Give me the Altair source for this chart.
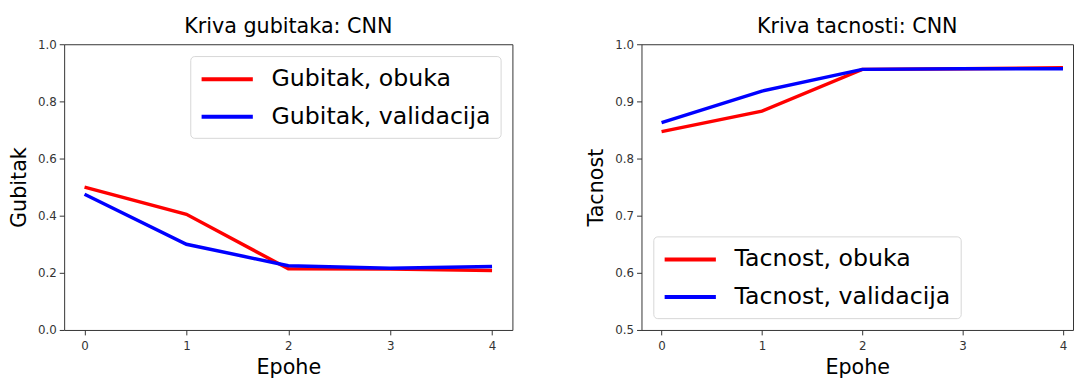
import altair as alt
import pandas as pd

FONT = "DejaVu Sans"

epochs = [0, 1, 2, 3, 4]
loss_train = [0.500, 0.405, 0.214, 0.213, 0.208]
loss_val = [0.475, 0.300, 0.225, 0.216, 0.222]
acc_train = [0.847, 0.883, 0.956, 0.957, 0.959]
acc_val = [0.863, 0.918, 0.956, 0.957, 0.957]

loss_names = ["Gubitak, obuka", "Gubitak, validacija"]
acc_names = ["Tacnost, obuka", "Tacnost, validacija"]
loss_ticks = [0.0, 0.2, 0.4, 0.6, 0.8, 1.0]
acc_ticks = [0.5, 0.6, 0.7, 0.8, 0.9, 1.0]
epoch_ticks = [0, 1, 2, 3, 4]


def long_df(names, train, val):
    rows = []
    for e, v in zip(epochs, train):
        rows.append({"epoha": e, "vrednost": v, "serija": names[0]})
    for e, v in zip(epochs, val):
        rows.append({"epoha": e, "vrednost": v, "serija": names[1]})
    return pd.DataFrame(rows)


def panel(df, names, title, ytitle, ydomain, yticks, xdomain, width, orient):
    return alt.Chart(df, title=alt.Title(title, fontSize=21, font=FONT, fontWeight="normal",
                                         color="black", offset=1)).mark_line(
        strokeWidth=3.5
    ).encode(
        x=alt.X("epoha:Q",
                scale=alt.Scale(domain=xdomain, nice=False, zero=False),
                axis=alt.Axis(values=epoch_ticks, format="d", title="Epohe")),
        y=alt.Y("vrednost:Q",
                scale=alt.Scale(domain=ydomain, nice=False, zero=False),
                axis=alt.Axis(values=yticks, format=".1f", title=ytitle)),
        color=alt.Color("serija:N",
                        scale=alt.Scale(domain=names, range=["#ff0000", "#0000ff"]),
                        legend=alt.Legend(title=None, orient=orient, offset=12,
                                          fillColor="white", strokeColor="#d6d6d6",
                                          cornerRadius=4, padding=9.5,
                                          symbolType="M-1,0H3.3333", symbolSize=576,
                                          symbolStrokeWidth=4,
                                          labelFontSize=24, labelFont=FONT,
                                          labelColor="black", labelOffset=45,
                                          labelLimit=500, rowPadding=12)),
        order=alt.Order("epoha:Q"),
    ).properties(width=width, height=290)


left = panel(long_df(loss_names, loss_train, loss_val), loss_names,
             "Kriva gubitaka: CNN", "Gubitak", [0.0, 1.0], loss_ticks,
             [-0.2, 4.2], 455, "top-right")
right = panel(long_df(acc_names, acc_train, acc_val), acc_names,
              "Kriva tacnosti: CNN", "Tacnost", [0.5, 1.0], acc_ticks,
              [-0.2, 4.1], 438, "bottom-left")

chart = alt.hconcat(left, right, spacing=73).resolve_scale(
    color="independent", x="independent", y="independent"
).resolve_legend(color="independent").properties(
    padding={"left": 0, "top": 5, "right": 0, "bottom": 0},
    background="white",
).configure_view(
    stroke="#333333", strokeWidth=1
).configure_axis(
    domain=False, grid=False,
    tickColor="#333333", tickSize=5, tickWidth=1,
    labelColor="#333333", labelFontSize=12, labelFont=FONT,
    titleFont=FONT, titleFontSize=21, titleFontWeight="normal", titleColor="black",
    titlePadding=8,
).configure_axisX(
    labelPadding=6, titlePadding=5
).configure_axisY(
    labelPadding=3
)

chart.save("out.html", embed_options={"renderer": "svg", "actions": False})
